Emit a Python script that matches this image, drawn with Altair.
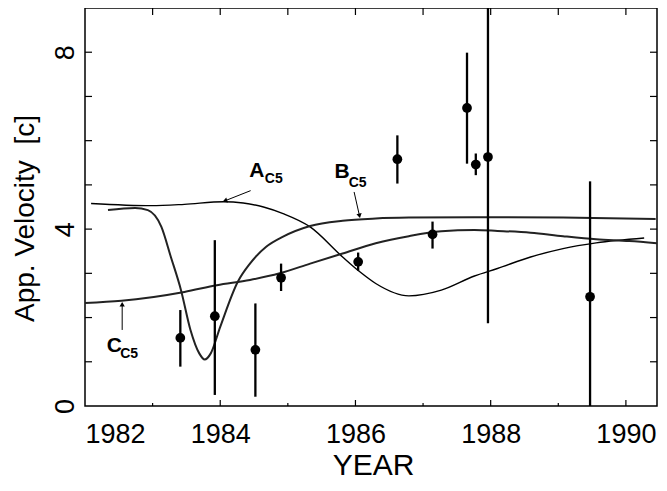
import altair as alt
import pandas as pd

# ---- observed apparent velocities (year, value, error-bar low/high)
obs_year = [1983.41, 1983.92, 1984.52, 1984.90, 1986.04, 1986.62, 1987.14, 1987.65, 1987.78, 1987.96, 1989.47]
obs_v    = [1.54, 2.03, 1.27, 2.90, 3.26, 5.58, 3.88, 6.74, 5.46, 5.63, 2.47]
obs_lo   = [0.89, 0.25, 0.21, 2.60, 3.06, 5.03, 3.56, 5.48, 5.22, 1.87, 0.00]
obs_hi   = [2.17, 3.75, 2.32, 3.22, 3.47, 6.12, 4.17, 7.99, 5.71, 9.00, 5.08]

# ---- model curves
a_year = [1982.09, 1982.98, 1983.47, 1984.05, 1984.34, 1984.64, 1984.93, 1985.33, 1985.81,
          1986.06, 1986.30, 1986.79, 1987.27, 1987.76, 1988.10, 1988.59, 1989.07, 1989.56, 1990.27]
a_v    = [4.58, 4.53, 4.56, 4.62, 4.59, 4.50, 4.35, 4.05, 3.37,
          3.04, 2.77, 2.49, 2.62, 2.94, 3.11, 3.37, 3.56, 3.69, 3.80]

b_year = [1982.34, 1982.74, 1982.93, 1983.13, 1983.27, 1983.42, 1983.56, 1983.69, 1983.77,
          1983.86, 1984.00, 1984.26, 1984.44, 1984.68, 1984.93, 1985.33, 1985.81, 1986.30,
          1986.79, 1987.76, 1989.07, 1990.44]
b_v    = [4.43, 4.48, 4.43, 4.05, 3.37, 2.62, 1.72, 1.19, 1.05,
          1.19, 1.79, 2.81, 3.22, 3.60, 3.83, 4.07, 4.19, 4.24,
          4.26, 4.27, 4.26, 4.23]

c_year = [1982.00, 1982.54, 1983.47, 1983.95, 1984.44, 1984.88, 1985.33, 1985.81, 1986.30,
          1986.79, 1987.27, 1987.76, 1988.10, 1988.59, 1989.07, 1989.56, 1990.05, 1990.46]
c_v    = [2.33, 2.38, 2.58, 2.73, 2.85, 3.00, 3.22, 3.45, 3.68,
          3.84, 3.95, 3.98, 3.96, 3.92, 3.84, 3.77, 3.73, 3.68]

# ---- axes
x_domain = [1982, 1990.46]
y_domain = [0, 9]
x_labels = [1982, 1984, 1986, 1988, 1990]
y_labels = [0, 4, 8]
x_major_ticks = [1984, 1986, 1988, 1990]
x_minor_ticks = [1983, 1985, 1987, 1989]
x_all_ticks = [1983, 1984, 1985, 1986, 1987, 1988, 1989, 1990]
y_ticks = [1, 2, 3, 4, 5, 6, 7, 8]

# ---- annotations
lab_text = ["A", "B", "C"]
lab_x = [1984.43, 1985.69, 1982.32]
lab_y = [5.18, 5.15, 1.23]
sub_text = ["C5", "C5", "C5"]
sub_x = [1984.66, 1985.90, 1982.52]
sub_y = [5.04, 4.95, 1.08]
arr_x0 = [1984.45, 1985.98, 1982.55]
arr_y0 = [4.87, 4.84, 1.72]
arr_x1 = [1984.07, 1986.06, 1982.55]
arr_y1 = [4.64, 4.30, 2.30]
arr_angle = [251, 168, 0]

W, H = 572, 398
FONT = "Liberation Sans"

xs = alt.Scale(domain=x_domain, nice=False, zero=False)
ys = alt.Scale(domain=y_domain, nice=False, zero=False)

x_axis = alt.Axis(values=x_labels, format="d", ticks=False, domain=False, grid=False,
                  labelFontSize=27, labelFont=FONT, labelColor="black", labelPadding=15,
                  title="YEAR", titleFont=FONT, titleFontSize=30,
                  titleFontWeight="normal", titleColor="black", titleX=288, titleY=68,
                  titleBaseline="alphabetic")
y_axis = alt.Axis(values=y_labels, format="d", ticks=False, domain=False, grid=False,
                  labelFontSize=27, labelFont=FONT, labelColor="black", labelPadding=12,
                  labelAngle=270, labelAlign="center", labelBaseline="alphabetic",
                  title="App. Velocity \u00a0[c]", titleFont=FONT, titleFontSize=28,
                  titleFontWeight="normal", titleColor="black", titleAngle=270,
                  titleX=-52, titleY=210, titleBaseline="alphabetic", titleAlign="center")


def X(field):
    return alt.X(field, type="quantitative", scale=xs, axis=x_axis)


def Y(field):
    return alt.Y(field, type="quantitative", scale=ys, axis=y_axis)


obs = pd.DataFrame({"year": obs_year, "v": obs_v, "lo": obs_lo, "hi": obs_hi})


def curve(years, vals, width, color):
    df = pd.DataFrame({"year": years, "v": vals})
    return alt.Chart(df).mark_line(interpolate="monotone", strokeWidth=width, color=color).encode(
        x=X("year"), y=Y("v"))


curve_a = curve(a_year, a_v, 1.4, "black")
curve_b = curve(b_year, b_v, 2.0, "#222222")
curve_c = curve(c_year, c_v, 2.0, "#222222")

errbars = alt.Chart(obs).mark_rule(strokeWidth=2.3, color="black", clip=True).encode(
    x=X("year"), y=Y("lo"), y2="hi:Q")
dots = alt.Chart(obs).mark_circle(size=95, color="black", opacity=1).encode(
    x=X("year"), y=Y("v"))

# ticks (inward)
bx_major = alt.Chart(pd.DataFrame({"year": x_major_ticks})).mark_rule(color="black", strokeWidth=1.2).encode(
    x=X("year"), y=alt.value(H), y2=alt.value(H - 6))
bx_minor = alt.Chart(pd.DataFrame({"year": x_minor_ticks})).mark_rule(color="black", strokeWidth=1.2).encode(
    x=X("year"), y=alt.value(H), y2=alt.value(H - 3))
tx = alt.Chart(pd.DataFrame({"year": x_all_ticks})).mark_rule(color="black", strokeWidth=1.2).encode(
    x=X("year"), y=alt.value(0), y2=alt.value(7))
ly = alt.Chart(pd.DataFrame({"v": y_ticks})).mark_rule(color="black", strokeWidth=1.2).encode(
    y=Y("v"), x=alt.value(0), x2=alt.value(7))
ry = alt.Chart(pd.DataFrame({"v": y_ticks})).mark_rule(color="black", strokeWidth=1.2).encode(
    y=Y("v"), x=alt.value(W), x2=alt.value(W - 7))

# annotations
labs = alt.Chart(pd.DataFrame({"year": lab_x, "v": lab_y, "t": lab_text})).mark_text(
    font=FONT, fontSize=21, fontWeight="bold", align="left", baseline="alphabetic", color="black"
).encode(x=X("year"), y=Y("v"), text="t:N")
subs = alt.Chart(pd.DataFrame({"year": sub_x, "v": sub_y, "t": sub_text})).mark_text(
    font=FONT, fontSize=14, fontWeight="bold", align="left", baseline="alphabetic", color="black"
).encode(x=X("year"), y=Y("v"), text="t:N")

arr_df = pd.DataFrame({"year": arr_x0, "v": arr_y0, "x1": arr_x1, "y1": arr_y1, "ang": arr_angle})
arr_lines = alt.Chart(arr_df).mark_rule(color="black", strokeWidth=1).encode(
    x=X("year"), y=Y("v"), x2="x1:Q", y2="y1:Q")
head_df = pd.DataFrame({"year": arr_x1, "v": arr_y1, "ang": arr_angle})
arr_heads = alt.Chart(head_df).mark_point(shape="triangle-up", size=28, filled=True, color="black",
                                          opacity=1).encode(
    x=X("year"), y=Y("v"), angle=alt.Angle("ang:Q", scale=None))

chart = alt.layer(
    curve_a, curve_b, curve_c, errbars, dots,
    bx_major, bx_minor, tx, ly, ry,
    arr_lines, arr_heads, labs, subs,
).properties(
    width=W, height=H,
    autosize=alt.AutoSizeParams(type="none"),
    padding={"left": 77, "top": 0, "right": 2, "bottom": 77},
    background="white",
).configure_view(stroke="black", strokeWidth=1.5)

chart.save("out.html", embed_options={"renderer": "svg", "actions": False})
